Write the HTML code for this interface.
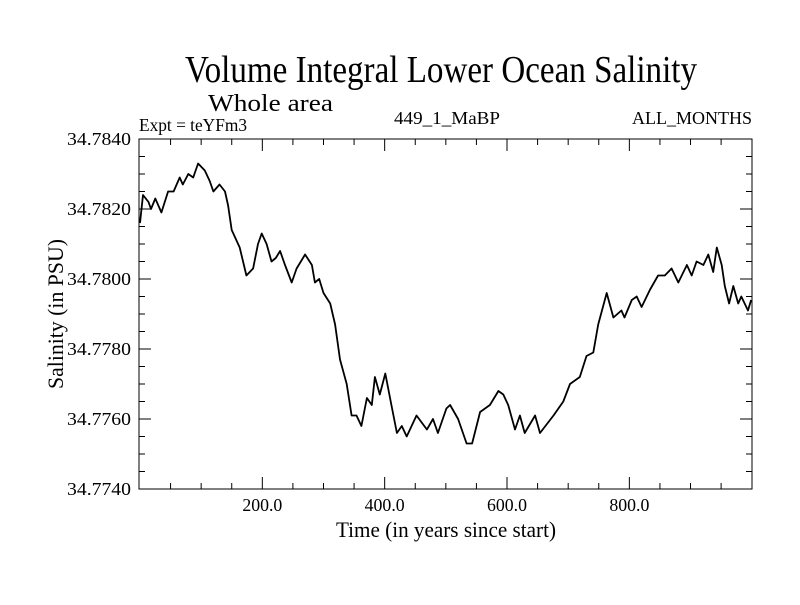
<!DOCTYPE html>
<html><head><meta charset="utf-8"><style>
body{margin:0;background:#fff}
svg text{font-family:"Liberation Serif",serif;fill:#000}
</style></head><body>
<svg id="chart" width="800" height="600" viewBox="0 0 800 600" xmlns="http://www.w3.org/2000/svg">
<rect width="800" height="600" fill="#fff"/>
<text x="441" y="82" font-size="38" text-anchor="middle" textLength="512" lengthAdjust="spacingAndGlyphs">Volume Integral Lower Ocean Salinity</text>
<text x="208" y="111" font-size="24" textLength="125" lengthAdjust="spacingAndGlyphs">Whole area</text>
<text x="139" y="131" font-size="18" textLength="108" lengthAdjust="spacingAndGlyphs">Expt = teYFm3</text>
<text x="447" y="124" font-size="18" text-anchor="middle" textLength="106" lengthAdjust="spacingAndGlyphs">449_1_MaBP</text>
<text x="752" y="124" font-size="18" text-anchor="end" textLength="120" lengthAdjust="spacingAndGlyphs">ALL_MONTHS</text>
<g id="axes"></g>
<path id="series" fill="none" stroke="#000" stroke-width="1.8" stroke-linejoin="round"/>
<rect x="139" y="139" width="613" height="350" fill="none" stroke="#000" stroke-width="1"/>
<text x="446" y="537" font-size="22" text-anchor="middle" textLength="220" lengthAdjust="spacingAndGlyphs">Time (in years since start)</text>
<text transform="translate(63,314) rotate(-90)" font-size="22" text-anchor="middle" textLength="150" lengthAdjust="spacingAndGlyphs">Salinity (in PSU)</text>
</svg>
<script>
const years=[0,5,14,18,25,35,46,55,65,70,79,87,95,106,114,120,130,139,144,150,163,174,185,193,199,207,215,222,229,237,248,256,270,281,286,293,300,311,319,327,338,346,354,362,371,379,384,392,401,411,420,428,436,452,469,479,487,501,507,520,534,543,556,572,586,594,602,613,621,629,646,654,676,692,703,719,730,741,749,763,774,787,792,804,812,820,834,847,858,869,880,894,902,910,921,929,937,943,951,956,963,970,978,983,994,999];
const salinity=[34.7816,34.7824,34.7822,34.7820,34.7823,34.7819,34.7825,34.7825,34.7829,34.7827,34.7830,34.7829,34.7833,34.7831,34.7828,34.7825,34.7827,34.7825,34.7821,34.7814,34.7809,34.7801,34.7803,34.7810,34.7813,34.7810,34.7805,34.7806,34.7808,34.7804,34.7799,34.7803,34.7807,34.7804,34.7799,34.7800,34.7796,34.7793,34.7787,34.7777,34.7770,34.7761,34.7761,34.7758,34.7766,34.7764,34.7772,34.7767,34.7773,34.7764,34.7756,34.7758,34.7755,34.7761,34.7757,34.7760,34.7756,34.7763,34.7764,34.7760,34.7753,34.7753,34.7762,34.7764,34.7768,34.7767,34.7764,34.7757,34.7761,34.7756,34.7761,34.7756,34.7761,34.7765,34.7770,34.7772,34.7778,34.7779,34.7787,34.7796,34.7789,34.7791,34.7789,34.7794,34.7795,34.7792,34.7797,34.7801,34.7801,34.7803,34.7799,34.7804,34.7801,34.7805,34.7804,34.7807,34.7802,34.7809,34.7804,34.7798,34.7793,34.7798,34.7793,34.7795,34.7791,34.7794];
const xTickValues=[200,400,600,800];
const xTickLabels=["200.0","400.0","600.0","800.0"];
const yTickValues=[34.774,34.776,34.778,34.780,34.782,34.784];
const yTickLabels=["34.7740","34.7760","34.7780","34.7800","34.7820","34.7840"];
const L=139,R=752,T=139,B=489,X0=-1.6,X1=1000.5,Y0=34.774,Y1=34.784;
const sx=v=>L+(v-X0)/(X1-X0)*(R-L);
const sy=v=>B-(v-Y0)/(Y1-Y0)*(B-T);
const NS="http://www.w3.org/2000/svg";
const g=document.getElementById('axes');
function ln(x1,y1,x2,y2,name){const e=document.createElementNS(NS,'line');
e.setAttribute('x1',x1);e.setAttribute('y1',y1);e.setAttribute('x2',x2);e.setAttribute('y2',y2);
e.setAttribute('stroke','#000');e.setAttribute('stroke-width','1');


g.appendChild(e);}
function tx(x,y,s,anchor,len,name){const e=document.createElementNS(NS,'text');
e.setAttribute('x',x);e.setAttribute('y',y);e.setAttribute('font-size','18');e.setAttribute('text-anchor',anchor);
e.setAttribute('textLength',len);e.setAttribute('lengthAdjust','spacingAndGlyphs');e.textContent=s;


g.appendChild(e);}
for(let v=50;v<1000;v+=50){const x=sx(v);const big=v%200===0;const h=big?12:6;
ln(x,B,x,B-h,'x-tick');ln(x,T,x,T+h,'x-tick-top');}
for(let i=1;i<20;i++){const v=Y0+i*0.0005;const y=sy(v);const big=i%4===0;const h=big?12:6;
ln(L,y,L+h,y,'y-tick');ln(R,y,R-h,y,'y-tick-right');}
xTickValues.forEach((v,i)=>tx(sx(v),511,xTickLabels[i],'middle',40,'x-tick-label'));
yTickValues.forEach((v,i)=>tx(131,sy(v)+6,yTickLabels[i],'end',64,'y-tick-label'));
let d='';years.forEach((yr,i)=>{d+=(i?'L':'M')+sx(yr).toFixed(1)+' '+sy(salinity[i]).toFixed(1);});
document.getElementById('series').setAttribute('d',d);
</script>
</body></html>
